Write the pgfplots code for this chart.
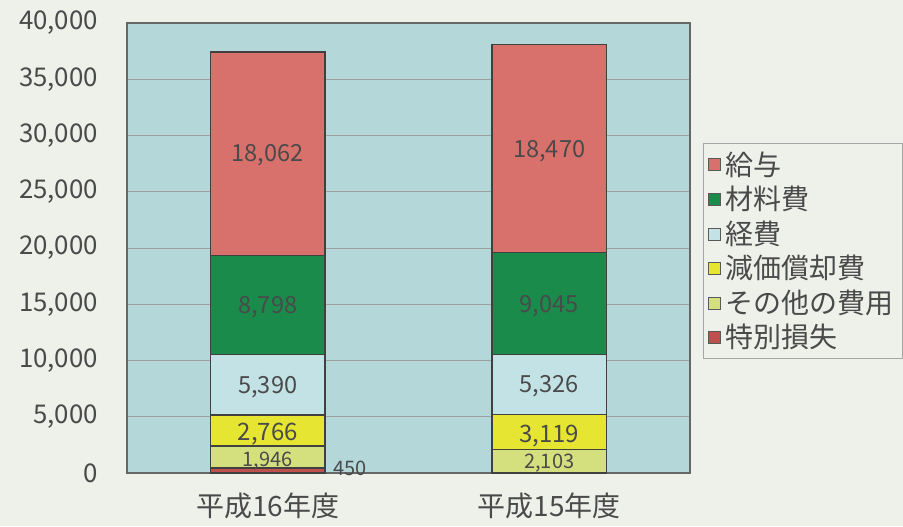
\documentclass[border=0pt]{standalone}
\usepackage{fontspec}
\setmainfont{Noto Sans CJK JP}
\usepackage{pgfplots}
\pgfplotsset{compat=1.18}

\definecolor{paper}{HTML}{EEF0EA}
\definecolor{plotbg}{HTML}{B4D7DA}
\definecolor{kyuyo}{HTML}{D8716C}
\definecolor{zairyo}{HTML}{1A8B4A}
\definecolor{keihi}{HTML}{C3E2E6}
\definecolor{genka}{HTML}{E6E632}
\definecolor{sonota}{HTML}{D4E07E}
\definecolor{tokubetsu}{HTML}{C0504D}
\definecolor{txt}{HTML}{4A4A4A}

\pgfplotsset{
  frame/.style={
    width=281.5pt, height=225pt, scale only axis,
    xmin=-0.5, xmax=1.5, ymin=0, ymax=40000,
    at={(63.5pt,26.5pt)}, anchor=south west
  },
  lab/.style={draw=none, mark=none, nodes near coords, point meta=explicit symbolic,
    every node near coord/.append style={anchor=center, text=txt, font=#1}}
}

\begin{document}
\begin{tikzpicture}
\fill[paper] (0,0) rectangle (451.5pt,263pt);

\begin{axis}[
  frame,
  ybar stacked,
  bar width=0.407,
  axis background/.style={fill=plotbg},
  axis line style={draw=gray!80!black, line width=0.6pt},
  ymajorgrids,
  grid style={draw=gray!75, line width=0.4pt},
  ytick={0,5000,...,40000},
  xtick={0,1},
  xticklabels={平成16年度,平成15年度},
  major tick length=0,
  scaled y ticks=false,
  /pgf/number format/assume math mode=true,
  yticklabel style={/pgf/number format/1000 sep={,}, font=\fontsize{12.9}{15}\selectfont, text=txt, xshift=-11pt},
  xticklabel style={font=\fontsize{14}{16}\selectfont, text=txt, yshift=-6.5pt},
  reverse legend,
  legend image code/.code={\draw[#1, draw=gray!70!black, line width=0.4pt] (0pt,-3pt) rectangle (6pt,3pt);},
  legend style={at={(1.023,0.733)}, anchor=north west, draw=gray!70, fill=paper,
    font=\fontsize{14}{15}\selectfont, text=txt, row sep=0pt,
    inner xsep=2.5pt, inner ysep=2pt, cells={anchor=west}},
]
\addplot[fill=tokubetsu, draw=black!75, line width=0.7pt] coordinates {(0,450) (1,0)};
\addplot[fill=sonota, draw=black!75, line width=0.7pt] coordinates {(0,1946) (1,2103)};
\addplot[fill=genka, draw=black!75, line width=0.7pt] coordinates {(0,2766) (1,3119)};
\addplot[fill=keihi, draw=black!75, line width=0.7pt] coordinates {(0,5390) (1,5326)};
\addplot[fill=zairyo, draw=black!75, line width=0.7pt] coordinates {(0,8798) (1,9045)};
\addplot[fill=kyuyo, draw=black!75, line width=0.7pt] coordinates {(0,18062) (1,18470)};
\legend{特別損失,その他の費用,減価償却費,経費,材料費,給与}
\end{axis}

\begin{axis}[frame, hide axis]
\addplot[lab=\fontsize{11.8}{13}\selectfont] table[meta=t] {
x y t
0 28267 18,062
0 14756 8,798
0 7600 5,390
1 28578 18,470
1 14800 9,045
1 7690 5,326
};
\addplot[lab=\fontsize{12}{13}\selectfont] table[meta=t] {
x y t
0 3450 2,766
1 3300 3,119
};
\addplot[lab=\fontsize{10}{11}\selectfont] table[meta=t] {
x y t
0 1020 1,946
1 890 2,103
0.292 400 450
};
\end{axis}
\end{tikzpicture}
\end{document}
